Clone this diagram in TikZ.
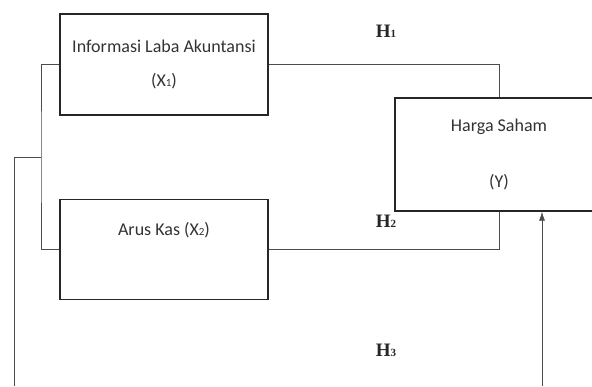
\documentclass[tikz,border=0pt]{standalone}
\usepackage{fontspec}
\setmainfont{Carlito}
\newfontfamily\hfont{Liberation Serif}
\usetikzlibrary{arrows.meta, positioning}
\newcommand{\sml}[1]{{\fontsize{11}{11}\selectfont #1}}
\tikzstyle{varbox} = [rectangle,
minimum width=208pt,
minimum height=101pt,
text centered,
align=center,
draw=black!85,
line width=1.3pt,
text=black!80,
font=\fontsize{18}{22}\selectfont]
\tikzstyle{link} = [draw=black!70, line width=0.7pt]
\tikzstyle{arrow} = [link, -{Latex[length=9pt,width=6pt]}]
\tikzstyle{hyp} = [font={\hfont\bfseries\fontsize{19}{22}\selectfont}, text=black!85]

\begin{document}
\begin{tikzpicture}[x=1pt, y=-1pt]
\useasboundingbox (0,0) rectangle (592,386);

\node (x1) [varbox] at (164,64.5) {Informasi Laba Akuntansi\\[12pt](X\sml{1})};
\node (x2) [varbox, minimum height=100pt, below=83pt of x1] {Arus Kas (X\sml{2})\\[12pt]\strut};
\node (y) [varbox, minimum height=113pt] at (499,154.5) {Harga Saham\\[34pt](Y)};

\node (h1) [hyp] at (386,31) {H\sml{1}};
\node (h2) [hyp] at (386,221) {H\sml{2}};
\node (h3) [hyp] at (386,350) {H\sml{3}};

\coordinate (jn) at (41,157);
\coordinate (lowL) at (14,386);
\coordinate (lowR) at (542,386);

\draw [link] (x1.east) -| (y.north);
\draw [link] (x2.east) -| (y.south);
\draw [link] (x1.west) -| (jn) |- (x2.west);
\draw [link] (jn) -| (lowL);
\draw [arrow] (lowR) -- (lowR |- y.south);

\end{tikzpicture}
\end{document}
